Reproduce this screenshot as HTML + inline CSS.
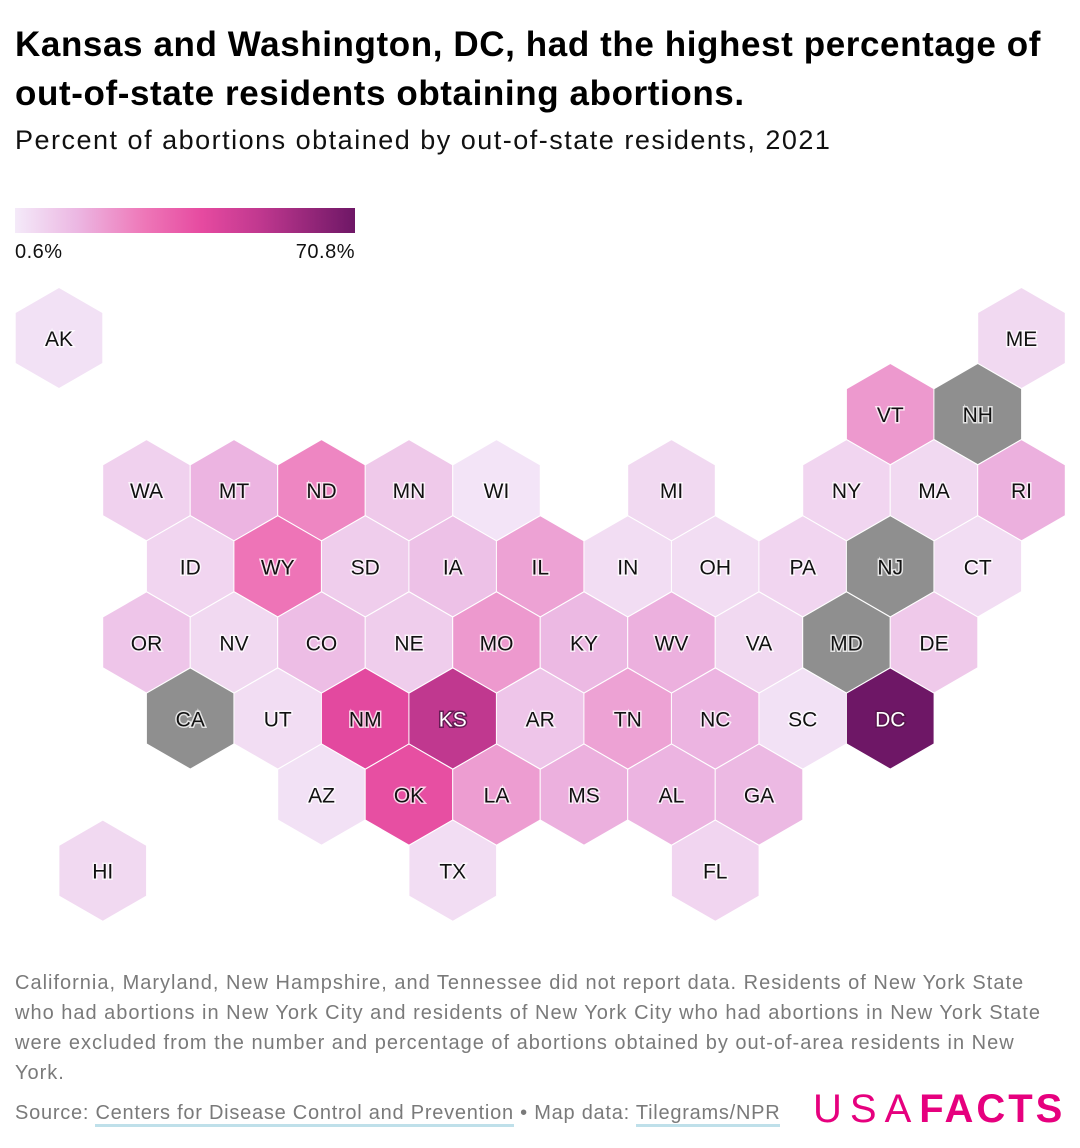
<!DOCTYPE html>
<html><head><meta charset="utf-8"><style>
body{margin:0;background:#fff;font-family:"Liberation Sans",sans-serif;}
#wrap{position:relative;width:1080px;height:1148px;overflow:hidden;}
.t{position:absolute;left:15px;white-space:nowrap;}
</style></head><body><div id="wrap">
<div class="t" style="top:20px;font-size:35px;font-weight:bold;line-height:49px;color:#000;letter-spacing:0.6px">Kansas and Washington, DC, had the highest percentage of<br>out-of-state residents obtaining abortions.</div>
<div class="t" style="top:125px;font-size:27px;color:#111;letter-spacing:1.5px">Percent of abortions obtained by out-of-state residents, 2021</div>
<div style="position:absolute;left:15px;top:208px;width:340px;height:25px;background:linear-gradient(90deg,#f4eaf9 0%,#ecb8e3 18%,#ee77b8 38%,#e64aa0 55%,#c0388f 72%,#6e1766 100%)"></div>
<div class="t" style="top:241px;font-size:20px;color:#111;letter-spacing:0.5px">0.6%</div>
<div class="t" style="top:241px;left:auto;right:725px;font-size:20px;color:#111;letter-spacing:0.5px">70.8%</div>
<svg id="map" width="1080" height="1148" style="position:absolute;left:0;top:0"></svg>
<div class="t" style="top:968px;font-size:20px;line-height:30px;color:#7a7a7a;letter-spacing:1px">California, Maryland, New Hampshire, and Tennessee did not report data. Residents of New York State<br>who had abortions in New York City and residents of New York City who had abortions in New York State<br>were excluded from the number and percentage of abortions obtained by out-of-area residents in New<br>York.</div>
<div class="t" style="top:1102px;font-size:20px;color:#7a7a7a;letter-spacing:0.75px">Source: <span style="border-bottom:3px solid #bfe0ea">Centers for Disease Control and Prevention</span> • Map data: <span style="border-bottom:3px solid #bfe0ea">Tilegrams/NPR</span></div>
<div style="position:absolute;left:813px;top:1087px;font-size:40px;color:#e6007e;white-space:nowrap;letter-spacing:3px"><span style="font-weight:normal;letter-spacing:8px">USA</span><span style="font-weight:bold">FACTS</span></div>
</div>
<script>
const states=["AK","ME","VT","NH","WA","MT","ND","MN","WI","MI","NY","MA","RI","ID","WY","SD","IA","IL","IN","OH","PA","NJ","CT","OR","NV","CO","NE","MO","KY","WV","VA","MD","DE","CA","UT","NM","KS","AR","TN","NC","SC","DC","AZ","OK","LA","MS","AL","GA","HI","TX","FL"];
const cols=[0,22,19,21,2,4,6,8,10,14,18,20,22,3,5,7,9,11,13,15,17,19,21,2,4,6,8,10,12,14,16,18,20,3,5,7,9,11,13,15,17,19,6,8,10,12,14,16,1,9,15];
const rows=[0,0,1,1,2,2,2,2,2,2,2,2,2,3,3,3,3,3,3,3,3,3,3,4,4,4,4,4,4,4,4,4,4,5,5,5,5,5,5,5,5,5,6,6,6,6,6,6,7,7,7];
const values=[3,5,20,null,7,14,24,9,2,5,6,5,15,6,28,8,11,18,4,4,6,null,4,10,5,12,8,20,13,15,5,null,9,null,4,40,51,10,18,14,3,70.8,3,38,19,15,14,13,5,4,6];
const vmin=0.6,vmax=70.8;
const stops=[[0,[244,234,249]],[0.18,[236,184,227]],[0.38,[238,119,184]],[0.55,[230,74,160]],[0.72,[192,56,143]],[1,[110,23,102]]];
function color(v){if(v==null)return"#8f8f8f";let t=Math.max(0,Math.min(1,(v-vmin)/(vmax-vmin)));for(let i=1;i<stops.length;i++){if(t<=stops[i][0]){const a=stops[i-1],b=stops[i],f=(t-a[0])/(b[0]-a[0]);return"rgb("+a[1].map((c,k)=>Math.round(c+(b[1][k]-c)*f)).join(",")+")";}}return"rgb(110,23,102)";}
const xs=c=>59+43.75*c, ys=r=>338+76.1*r, R=50.6;
const svg=document.getElementById("map"),NS="http://www.w3.org/2000/svg";
states.forEach((s,i)=>{const cx=xs(cols[i]),cy=ys(rows[i]);let pts=[];for(let k=0;k<6;k++){const a=Math.PI/180*(60*k-90);pts.push((cx+R*Math.cos(a)).toFixed(1)+","+(cy+R*Math.sin(a)).toFixed(1));}
const p=document.createElementNS(NS,"polygon");p.setAttribute("points",pts.join(" "));p.setAttribute("fill",color(values[i]));p.setAttribute("stroke","#fff");p.setAttribute("stroke-width","1");


svg.appendChild(p);
const dark=values[i]!=null&&values[i]>45;const t=document.createElementNS(NS,"text");t.setAttribute("x",cx);t.setAttribute("y",cy+8);t.setAttribute("text-anchor","middle");t.setAttribute("font-size","21");t.setAttribute("font-family","Liberation Sans, sans-serif");t.setAttribute("fill",dark?"#fff":"#111");t.setAttribute("stroke",dark?"rgba(80,20,70,0.8)":"rgba(255,255,255,0.75)");t.setAttribute("stroke-width","3");t.setAttribute("paint-order","stroke");t.textContent=s;


svg.appendChild(t);});
</script></body></html>
